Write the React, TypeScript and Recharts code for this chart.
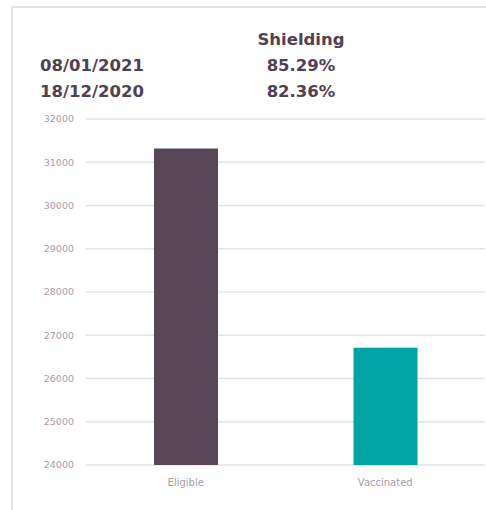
import React from 'react';
import { BarChart, Bar, XAxis, YAxis, CartesianGrid, Cell } from 'recharts';

const categories = ['Eligible', 'Vaccinated'];
const counts = [31320, 26713];
const barColors = ['#584659', '#00a3a3'];
const yTicks = [24000, 25000, 26000, 27000, 28000, 29000, 30000, 31000, 32000];

const headerTitle = 'Shielding';
const headerDates = ['08/01/2021', '18/12/2020'];
const headerRates = ['85.29%', '82.36%'];

const data = categories.map((name, i) => ({ name, value: counts[i] }));

const textColor = '#4f4153';
const headFont = { fontFamily: 'DejaVu Sans', fontWeight: 700, fontSize: 16.5, color: textColor };

export default function App() {
  return (
    <div style={{ position: 'fixed', left: 0, top: 0, width: 486, height: 510, overflow: 'hidden', background: '#fff' }}>
      {/* frame */}
      <div
        style={{
          position: 'absolute',
          left: 11,
          top: 6,
          width: 500,
          height: 520,
          borderLeft: '2px solid #e2e2e2',
          borderTop: '2px solid #e2e2e2',
        }}
      />

      <div style={{ position: 'absolute', left: 0, top: 0 }}>
        <BarChart width={486} height={510} data={data} margin={{ top: 119, right: 1, bottom: 15, left: 0 }}>
          <CartesianGrid vertical={false} stroke="#e6e0e9" strokeWidth={1.5} />
          <XAxis
            dataKey="name"
            axisLine={false}
            tickLine={false}
            tickSize={6}
            tickMargin={8}
            tick={{ fill: '#a79bab', fontSize: 10, fontFamily: 'DejaVu Sans' }}
          />
          <YAxis
            width={86}
            domain={[24000, 32000]}
            ticks={yTicks}
            axisLine={false}
            tickLine={false}
            tickSize={6}
            tickMargin={6}
            tick={{ fill: '#a79bab', fontSize: 9.5, fontFamily: 'DejaVu Sans' }}
          />
          <Bar dataKey="value" barSize={64} isAnimationActive={false}>
            {data.map((d, i) => (
              <Cell key={d.name} fill={barColors[i]} />
            ))}
          </Bar>
        </BarChart>
      </div>

      {/* header */}
      <div style={{ ...headFont, position: 'absolute', left: 201, width: 200, textAlign: 'center', top: 30, lineHeight: '20px' }}>
        {headerTitle}
      </div>
      {headerDates.map((d, i) => (
        <div key={d} style={{ ...headFont, position: 'absolute', left: 40, top: 56 + i * 26, lineHeight: '20px' }}>
          {d}
        </div>
      ))}
      {headerRates.map((r, i) => (
        <div
          key={r}
          style={{ ...headFont, position: 'absolute', left: 201, width: 200, textAlign: 'center', top: 56 + i * 26, lineHeight: '20px' }}
        >
          {r}
        </div>
      ))}
    </div>
  );
}
